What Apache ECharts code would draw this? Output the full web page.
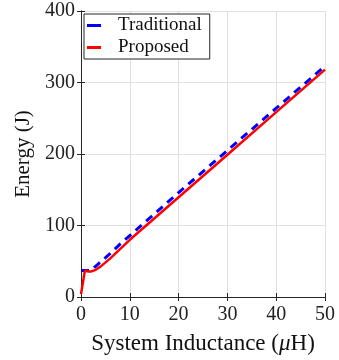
<!DOCTYPE html>
<html><head><meta charset="utf-8">
<script src="https://cdn.jsdelivr.net/npm/echarts@6/dist/echarts.min.js"></script>
<style>html,body{margin:0;padding:0;background:#fff}#c{width:339px;height:360px}</style>
</head><body><div id="c"></div>
<script>
var inductance = [0, 0.8, 1.5, 2, 3, 4, 6, 8, 10, 20, 30, 40, 50];
var traditional = [37, 37, 37, 37, 43, 49, 61, 74, 86, 146, 205, 264, 323];
var proposed = [4, 37, 35.5, 35.5, 38, 42.5, 54, 67, 80, 139.5, 199, 258.5, 318];
var seriesNames = ['Traditional', 'Proposed'];
var xTicks = [0, 10, 20, 30, 40, 50];
var yTicks = [0, 100, 200, 300, 400];

function pairs(ys) { return inductance.map(function (x, i) { return [x, ys[i]]; }); }
var font = 'Liberation Serif';
var axisCol = '#262626';
var chart = echarts.init(document.getElementById('c'));
var common = {
  axisLine: { show: true, lineStyle: { color: axisCol, width: 1 } },
  axisTick: { show: true, inside: true, length: 4, lineStyle: { color: axisCol } }
};
chart.setOption({
  animation: false,
  grid: { left: 81, right: 14, top: 11, bottom: 62, containLabel: false },
  legend: {
    data: seriesNames, orient: 'vertical', left: 84, top: 14, icon: 'rect',
    backgroundColor: '#fff', borderColor: axisCol, borderWidth: 1,
    padding: [2, 8, 2, 3], itemWidth: 14, itemHeight: 3, itemGap: 3,
    textStyle: { fontFamily: font, fontSize: 19, color: '#111', padding: [0, 0, 0, 12] }
  },
  xAxis: [
    Object.assign({
      type: 'value', min: 0, max: 50, interval: 10,
      name: 'System Inductance ({i|μ}H)', nameLocation: 'middle', nameGap: 35,
      nameTextStyle: { fontFamily: font, fontSize: 23, color: '#111',
        rich: { i: { fontFamily: font, fontStyle: 'italic', fontSize: 23, color: '#111' } } },
      axisLabel: { fontFamily: font, fontSize: 20, color: '#222', margin: 8 },
      splitLine: { show: true, lineStyle: { color: '#e0e0e0', width: 1 } }
    }, common),
    Object.assign({ type: 'value', position: 'top', min: 0, max: 50, interval: 10,
      axisLabel: { show: false }, splitLine: { show: false } }, common)
  ],
  yAxis: [
    Object.assign({
      type: 'value', min: 0, max: 400, interval: 100,
      name: 'Energy (J)', nameLocation: 'middle', nameGap: 41, nameRotate: 90,
      nameTextStyle: { fontFamily: font, fontSize: 21, color: '#111' },
      axisLabel: { fontFamily: font, fontSize: 20, color: '#222', margin: 6 },
      splitLine: { show: true, lineStyle: { color: '#e0e0e0', width: 1 } }
    }, common),
    Object.assign({ type: 'value', position: 'right', min: 0, max: 400, interval: 100,
      axisLabel: { show: false }, splitLine: { show: false } }, common)
  ],
  series: [
    { name: seriesNames[0], type: 'line', data: pairs(traditional), showSymbol: false, symbol: 'none',
      lineStyle: { color: '#0000ff', width: 3, type: [8, 6] }, itemStyle: { color: '#0000ff' }, z: 3 },
    { name: seriesNames[1], type: 'line', data: pairs(proposed), showSymbol: false, symbol: 'none',
      lineStyle: { color: '#ff0000', width: 2.5 }, itemStyle: { color: '#ff0000' }, z: 4 }
  ]
});
</script></body></html>
